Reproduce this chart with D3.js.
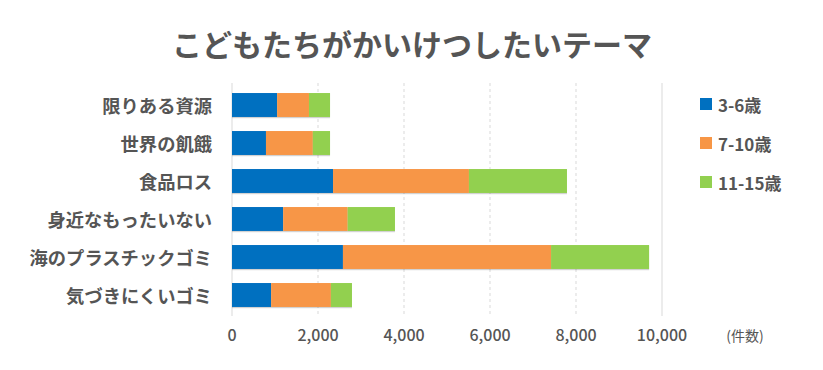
<!DOCTYPE html>
<html lang="ja">

<head>
  <meta charset="UTF-8">
  <title>こどもたちがかいけつしたいテーマ</title>
  <script src="https://d3js.org/d3.v7.min.js"></script>
  <style>
    body { margin: 0; background: #fff; }
    text { font-family: "Noto Sans CJK JP", "Noto Sans", sans-serif; fill: #555; }
  </style>
</head>

<body>
  <script>
    // データ
    let categories = ['限りある資源', '世界の飢餓', '食品ロス', '身近なもったいない', '海のプラスチックゴミ', '気づきにくいゴミ']
    let seriesNames = ['3-6歳', '7-10歳', '11-15歳']
    let age3to6 = [1050, 790, 2350, 1190, 2580, 910]
    let age7to10 = [740, 1090, 3160, 1500, 4840, 1390]
    let age11to15 = [490, 400, 2280, 1100, 2280, 490]
    let xTicks = [0, 2000, 4000, 6000, 8000, 10000]
    let colors = ['#0070c0', '#f79646', '#92d050']

    let width = 823
    let height = 370

    let svg = d3.select('body')
      .append('svg')
      .attr('width', width)
      .attr('height', height)

    // 棒の下にうすい影
    let filter = svg.append('defs').append('filter')
      .attr('id', 'shadow')
      .attr('x', '-5%').attr('y', '-20%')
      .attr('width', '110%').attr('height', '150%')
    filter.append('feDropShadow')
      .attr('dx', 0).attr('dy', 1.2)
      .attr('stdDeviation', 0.6)
      .attr('flood-color', '#000')
      .attr('flood-opacity', 0.18)

    let x = d3.scaleLinear().domain([0, 10000]).range([232, 662])
    let y = d3.scaleBand().domain(categories).range([86, 314]).paddingInner(0.37).paddingOuter(0.185)

    // タイトル
    let title = svg.append('text')
      .attr('x', 412)
      .attr('y', 43)
      .attr('text-anchor', 'middle')
      .attr('dominant-baseline', 'central')
      .style('font-size', '30px')
      .style('font-weight', 'bold')
      .text('こどもたちがかいけつしたいテーマ')
    // 幅を参照と同じ 480px に合わせる
    title.attr('textLength', 480).attr('lengthAdjust', 'spacing')

    // グリッド線
    svg.append('g')
      .selectAll('line')
      .data(xTicks)
      .enter()
      .append('line')
      .attr('x1', d => x(d))
      .attr('x2', d => x(d))
      .attr('y1', 83)
      .attr('y2', 316)
      .style('stroke', '#d9d9d9')
      .style('stroke-width', 1)
      .style('stroke-dasharray', d => (d === 0 || d === 10000) ? null : '3,3')

    // 積み上げ
    let rows = categories.map((c, i) => ({ cat: c, a: age3to6[i], b: age7to10[i], c: age11to15[i] }))
    let stacked = d3.stack().keys(['a', 'b', 'c'])(rows)

    svg.append('g')
      .selectAll('g')
      .data(stacked)
      .enter()
      .append('g')
      .style('fill', (d, i) => colors[i])
      .selectAll('rect')
      .data(d => d)
      .enter()
      .append('rect')
      .attr('x', d => x(d[0]))
      .attr('y', d => y(d.data.cat))
      .attr('width', d => x(d[1]) - x(d[0]))
      .attr('height', y.bandwidth())
      .attr('filter', 'url(#shadow)')

    // カテゴリーのラベル
    svg.append('g')
      .selectAll('text')
      .data(categories)
      .enter()
      .append('text')
      .attr('x', 212)
      .attr('y', d => y(d) + y.bandwidth() / 2)
      .attr('text-anchor', 'end')
      .attr('dominant-baseline', 'central')
      .style('font-size', '18.3px')
      .style('font-weight', 'bold')
      .text(d => d)

    // 目盛りのラベル
    svg.append('g')
      .selectAll('text')
      .data(xTicks)
      .enter()
      .append('text')
      .attr('x', d => x(d))
      .attr('y', 334)
      .attr('text-anchor', 'middle')
      .attr('dominant-baseline', 'central')
      .style('font-size', '16px')
      .style('font-weight', '500')
      .text(d => d3.format(',')(d))

    svg.append('text')
      .attr('x', 745)
      .attr('y', 335)
      .attr('text-anchor', 'middle')
      .attr('dominant-baseline', 'central')
      .style('font-size', '14px')
      .text('(件数)')

    // 凡例
    let legend = svg.append('g')
      .selectAll('g')
      .data(seriesNames)
      .enter()
      .append('g')
      .attr('transform', (d, i) => 'translate(700,' + (104 + i * 39) + ')')
    legend.append('rect')
      .attr('x', 0)
      .attr('y', -6)
      .attr('width', 12)
      .attr('height', 12)
      .style('fill', (d, i) => colors[i])
    legend.append('text')
      .attr('x', 18)
      .attr('y', 0)
      .attr('dominant-baseline', 'central')
      .style('font-size', '17px')
      .style('font-weight', 'bold')
      .text(d => d)
  </script>
</body>

</html>
